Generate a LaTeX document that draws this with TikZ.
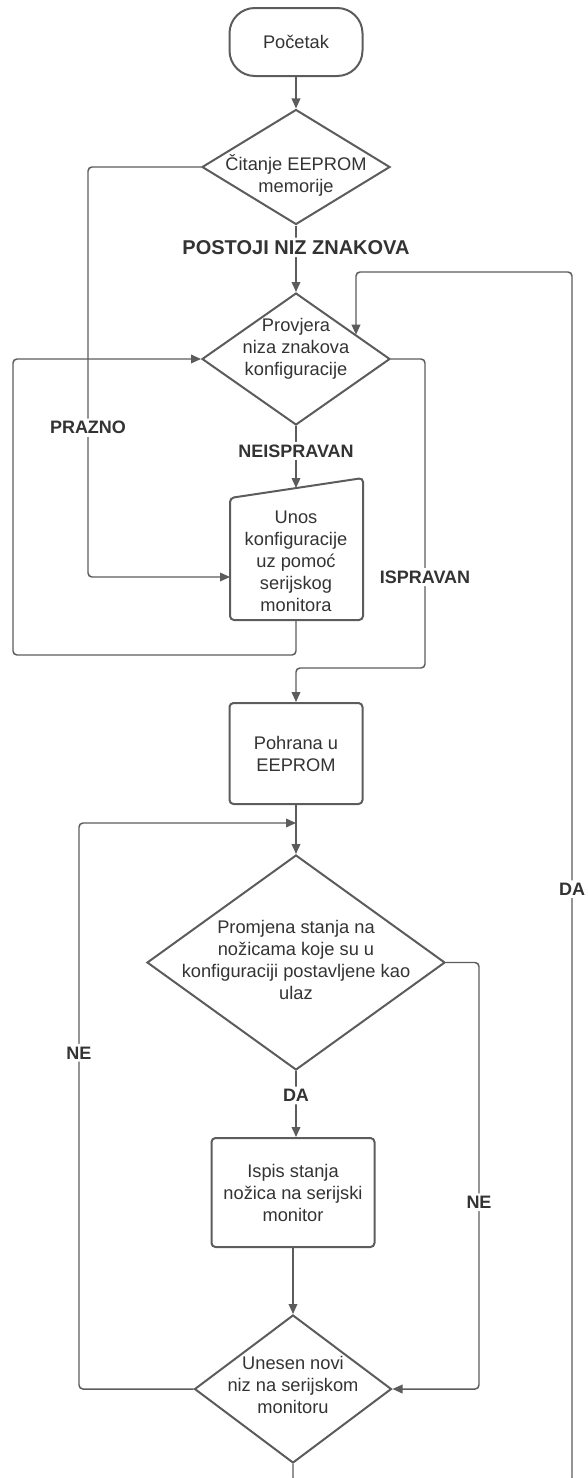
\documentclass[tikz,border=0pt]{standalone}
\usepackage{fontspec}
\setmainfont{Liberation Sans}
\usetikzlibrary{shapes.geometric,arrows.meta}
\definecolor{linegray}{HTML}{5C5C5C}
\definecolor{textgray}{HTML}{333333}

\begin{document}
\begin{tikzpicture}[x=0.75pt,y=-0.75pt,>={Triangle[length=7.5pt,width=6.5pt]}]
        \tikzstyle{terminal}=[rectangle,rounded corners=19pt,draw=linegray,line width=1.5pt]
        \tikzstyle{decision}=[diamond,draw=linegray,line width=1.5pt,inner sep=0pt]
        \tikzstyle{process}=[rectangle,rounded corners=3pt,draw=linegray,line width=1.5pt]
        \tikzstyle{manual}=[draw=linegray,line width=1.5pt,rounded corners=3pt]
        \tikzstyle{txt}=[text=textgray,align=center,font=\fontsize{13.7}{16.5}\selectfont]
        \tikzstyle{answer}=[fill=white,text=textgray,inner sep=2pt,font=\fontsize{13.5}{16}\selectfont\bfseries]
        \tikzstyle{edge}=[draw=linegray,line width=1.1pt,rounded corners=3pt]

        \useasboundingbox (0,0) rectangle (587,1478);
        \clip (0,0) rectangle (587,1478);

        % nodes
        \node [terminal,txt,minimum width=99.75pt,minimum height=51pt] (start) at (296,42) {Početak};
        \node [decision,minimum width=141pt,minimum height=86.25pt,
               label={[txt,yshift=-6pt]center:{Čitanje EEPROM\\memorije}}] (read) at (296,167) {};
        \node [decision,minimum width=141pt,minimum height=99pt,
               label={[txt,yshift=8pt]center:{Provjera\\niza znakova\\konfiguracije}}] (check) at (296,359) {};
        \node [txt] (unos) at (296,561) {Unos\\konfiguracije\\uz pomoć\\serijskog\\monitora};
        \draw [manual] (230,620) -- (230,498) -- (363,478) -- (363,620) -- cycle;
        \coordinate (unos-in) at (296,488);
        \coordinate (unos-w) at (230,577);
        \coordinate (unos-out) at (296,620);
        \node [process,txt,minimum width=99.75pt,minimum height=75.75pt] (save) at (296,753.5) {Pohrana u\\EEPROM};
        \node [decision,minimum width=223.5pt,minimum height=161.25pt,
               label={[txt,yshift=2pt]center:{Promjena stanja na\\nožicama koje su u\\konfiguraciji postavljene kao\\ulaz}}] (change) at (296,962.5) {};
        \node [process,txt,minimum width=122.25pt,minimum height=81.75pt] (print) at (293,1192.5) {Ispis stanja\\nožica na serijski\\monitor};
        \node [decision,minimum width=147.75pt,minimum height=111pt,
               label={[txt,yshift=3pt]center:{Unesen novi\\niz na serijskom\\monitoru}}] (poll) at (293,1389) {};
        \coordinate (merge) at (296,823);
        \coordinate (back) at (356,334.7);

        % connectors
        \path[edge,->] (start) -- (read);
        \path[edge,->] (read) -- node[answer,pos=0.33,font=\fontsize{15}{18}\selectfont\bfseries] {POSTOJI NIZ ZNAKOVA} (check);
        \path[edge,->] (check) -- node[answer,pos=0.4] {NEISPRAVAN} (unos-in);
        \path[edge,->] (read.west) -| node[answer,pos=0.818] {PRAZNO} (88,577) -- (unos-w);
        \path[edge,->] (unos-out) |- (13,655) |- (check.west);
        \path[edge,->] (check.east) -| node[answer,pos=0.853] {ISPRAVAN} (425,668) -| (save.north);
        \path[edge,->] (save) -- (change);
        \path[edge,->] (change.south) -- node[answer,pos=0.37] {DA} (change.south |- print.north);
        \path[edge,->] (change.east) -| node[answer,pos=0.781] {NE} (479,1389) -- (poll.east);
        \path[edge,->] (print) -- (poll);
        \path[edge,->] (poll.west) -| node[answer,pos=0.797] {NE} (79,823) -- (merge);
        \path[edge,->] (poll.south) |- (572,1482) |- node[answer,pos=0.245] {DA} (356,272) -- (back);
\end{tikzpicture}
\end{document}
